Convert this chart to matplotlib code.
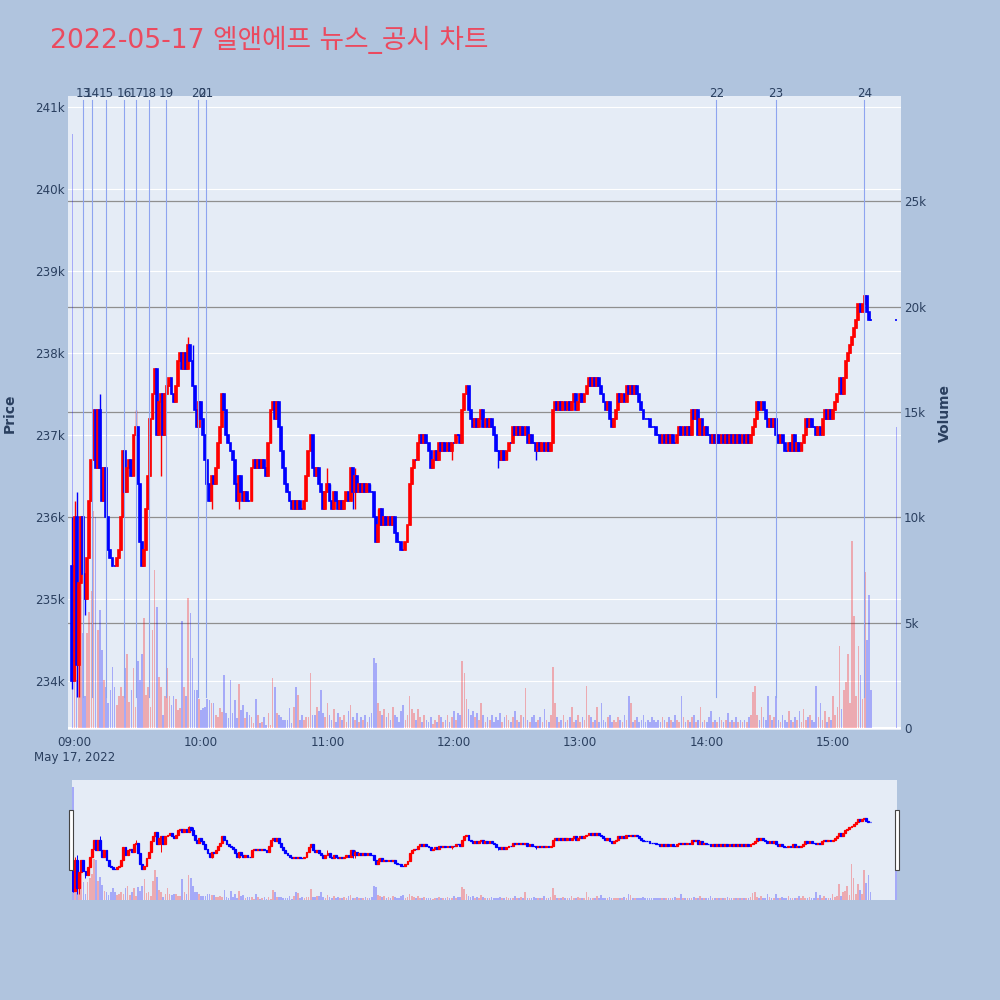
import numpy as np
import matplotlib
matplotlib.use('Agg')
import matplotlib.pyplot as plt
from matplotlib.patches import Rectangle
from matplotlib.lines import Line2D
from matplotlib.transforms import blended_transform_factory

plt.rcParams['font.family'] = ['DejaVu Sans', 'Noto Sans CJK KR']

# ---------------- data ----------------
title = '2022-05-17 엘앤에프 뉴스_공시 차트'
start_minute = -1                      # minutes after 09:00 of first candle
first_open = 235400
# 1-minute closes in units of 100 KRW
closes_100 = [
    2340, 2360, 2342, 2352, 2360, 2353, 2350, 2355, 2362, 2367,
    2373, 2366, 2373, 2366, 2362, 2366, 2360, 2356, 2355, 2354,
    2354, 2355, 2356, 2360, 2368, 2363, 2366, 2367, 2365, 2370,
    2371, 2364, 2357, 2354, 2356, 2361, 2365, 2372, 2375, 2378,
    2370, 2374, 2375, 2370, 2375, 2376, 2377, 2375, 2374, 2376,
    2379, 2380, 2378, 2380, 2378, 2381, 2379, 2376, 2373, 2371,
    2374, 2372, 2370, 2367, 2364, 2362, 2365, 2364, 2366, 2369,
    2371, 2375, 2373, 2370, 2369, 2368, 2367, 2364, 2362, 2365,
    2363, 2362, 2363, 2362, 2362, 2366, 2367, 2366, 2367, 2366,
    2367, 2366, 2365, 2369, 2373, 2374, 2372, 2374, 2371, 2368,
    2366, 2364, 2363, 2362, 2361, 2362, 2361, 2362, 2361, 2361,
    2362, 2365, 2368, 2370, 2366, 2365, 2366, 2364, 2363, 2361,
    2363, 2364, 2362, 2361, 2363, 2362, 2361, 2362, 2361, 2362,
    2363, 2362, 2366, 2363, 2365, 2363, 2364, 2363, 2364, 2363,
    2364, 2363, 2363, 2360, 2357, 2359, 2361, 2359, 2360, 2359,
    2360, 2359, 2360, 2358, 2357, 2357, 2356, 2356, 2357, 2359,
    2364, 2366, 2367, 2367, 2369, 2370, 2369, 2370, 2369, 2368,
    2366, 2367, 2368, 2367, 2369, 2368, 2369, 2368, 2369, 2368,
    2369, 2369, 2370, 2370, 2369, 2373, 2375, 2376, 2373, 2372,
    2371, 2372, 2371, 2372, 2373, 2371, 2372, 2371, 2372, 2371,
    2370, 2368, 2368, 2367, 2368, 2367, 2368, 2369, 2369, 2371,
    2370, 2371, 2370, 2371, 2370, 2371, 2369, 2370, 2369, 2369,
    2368, 2369, 2368, 2369, 2368, 2369, 2368, 2369, 2373, 2374,
    2373, 2374, 2373, 2374, 2373, 2374, 2373, 2374, 2375, 2373,
    2374, 2375, 2374, 2375, 2376, 2377, 2376, 2377, 2376, 2377,
    2376, 2375, 2374, 2373, 2374, 2372, 2371, 2372, 2373, 2375,
    2374, 2375, 2374, 2376, 2375, 2376, 2375, 2376, 2375, 2374,
    2373, 2372, 2372, 2372, 2371, 2371, 2371, 2370, 2370, 2369,
    2370, 2369, 2370, 2369, 2370, 2369, 2369, 2370, 2371, 2370,
    2371, 2370, 2371, 2370, 2373, 2372, 2373, 2370, 2372, 2370,
    2371, 2370, 2370, 2369, 2370, 2369, 2370, 2369, 2370, 2369,
    2370, 2369, 2370, 2369, 2370, 2369, 2370, 2369, 2370, 2369,
    2370, 2369, 2370, 2371, 2372, 2374, 2373, 2374, 2373, 2372,
    2371, 2372, 2371, 2372, 2370, 2369, 2370, 2369, 2368, 2368,
    2369, 2368, 2370, 2368, 2369, 2368, 2369, 2370, 2372, 2371,
    2372, 2371, 2371, 2370, 2371, 2370, 2372, 2373, 2372, 2373,
    2372, 2373, 2374, 2375, 2377, 2375, 2377, 2379, 2380, 2381,
    2382, 2383, 2384, 2386, 2385, 2386, 2387, 2385, 2384, 2384,
]
wick_high_100 = {0: 2360, 1: 2362, 2: 2363, 13: 2375, 30: 2373, 55: 2382,
                 57: 2381, 72: 2375, 121: 2366, 134: 2366, 145: 2361}
wick_low_100 = {0: 2339, 2: 2338, 3: 2338, 6: 2348, 42: 2365, 66: 2361,
                79: 2361, 133: 2361, 134: 2361, 180: 2367, 185: 2369,
                202: 2366, 220: 2367}
volumes = [
    28200, 4000, 2300, 3500, 9500, 4500, 1500, 4500, 5500, 6500,
    10300, 10000, 4650, 5600, 3700, 2280, 1960, 1200, 1800, 2900,
    1960, 1100, 1500, 1960, 1500, 2850, 3500, 1250, 1800, 2850,
    1000, 3200, 2280, 3500, 5200, 1570, 1960, 1000, 4650, 7500,
    5760, 2400, 1960, 600, 1500, 2850, 1500, 1100, 1500, 1400,
    850, 930, 5100, 1960, 1500, 6150, 5450, 3300, 1800, 1800,
    1400, 850, 930, 1000, 1400, 1330, 1170, 1170, 600, 540,
    930, 770, 2500, 690, 460, 2280, 690, 1330, 460, 2100,
    850, 1100, 460, 770, 600, 540, 230, 1400, 600, 230,
    300, 540, 150, 690, 150, 2350, 1960, 690, 600, 540,
    380, 380, 380, 930, 230, 1000, 1960, 1570, 380, 600,
    380, 540, 540, 2600, 600,
    600, 1000, 800, 1800, 700, 500, 1200, 600, 400, 900,
    300, 700, 500, 400, 600, 300, 800, 1100, 500, 400,
    700, 300, 500, 400, 600, 300, 500, 700,
    3300, 3100, 1200, 800, 600, 900, 500, 700,
    400, 1000, 600, 500, 300, 800, 1100, 400, 600, 1500,
    900, 700, 400, 900, 500, 300, 600, 400, 300, 500,
    200, 400, 300, 600, 500, 300, 400, 600,
    300, 500, 800, 400, 700, 600, 3200, 2600, 1400, 900,
    600, 800, 500, 700, 400, 1200, 600, 300, 500, 400,
    600, 300,
    500, 400, 700, 300, 500, 600, 400, 300, 500, 800,
    400, 300, 600, 500, 1900, 400, 300, 500, 600, 300,
    400, 500, 300, 900, 400, 300, 600, 2900,
    1200, 500, 300, 400, 600, 300, 400, 500, 1000, 300,
    400, 600, 300, 500, 400, 2000, 600, 500, 300, 400,
    1000, 300,
    1200, 400, 300, 500, 600, 300, 400, 300, 500, 400,
    300, 600, 400, 1500, 1200, 300, 400, 500, 300, 400,
    600, 300, 400, 300, 500, 400, 300, 400, 300, 500,
    400, 300, 500, 400, 300, 600, 400, 300, 1500, 500,
    300, 400, 300, 500, 600, 300, 400, 1000, 300, 400,
    300, 500, 800, 300, 400, 300, 500, 400, 300, 400,
    700, 300, 400, 300, 500, 300, 400, 300, 400, 300,
    500, 600, 1700, 2000, 600, 400, 1000, 500, 400, 1500,
    600, 400, 500, 1500, 400, 300, 600, 400, 300, 800,
    400, 300, 500, 400, 800, 300, 900, 400, 500, 600,
    400, 300, 2000, 500, 1200, 400, 800, 300, 500, 400,
    1500, 600, 1000, 3900, 900, 1800, 2200, 3500, 1200, 8900,
    5300, 1500, 3900, 2500, 1400, 7400, 4200, 6300, 1800,
]
auction_minute = 390                  # 15:30 closing auction
auction_price = 238400
auction_volume = 14300

news_labels = ['13', '14', '15', '16', '17', '18', '19', '20', '21', '22', '23', '24']
news_minutes = [4.2, 8.3, 15.0, 23.6, 29.3, 35.2, 43.6, 58.8, 62.4, 304.6, 332.8, 374.8]

price_ticks = [234000, 235000, 236000, 237000, 238000, 239000, 240000, 241000]
price_tick_labels = ['234k', '235k', '236k', '237k', '238k', '239k', '240k', '241k']
volume_ticks = [0, 5000, 10000, 15000, 20000, 25000]
volume_tick_labels = ['0', '5k', '10k', '15k', '20k', '25k']
time_ticks = [0, 60, 120, 180, 240, 300, 360]
time_tick_labels = ['09:00\nMay 17, 2022', '10:00', '11:00', '12:00', '13:00', '14:00', '15:00']

# ---------------- derived series ----------------
closes = np.array(closes_100, dtype=float) * 100
opens = np.concatenate([[first_open], closes[:-1]])
highs = np.maximum(opens, closes)
lows = np.minimum(opens, closes)
for k, v in wick_high_100.items():
    highs[k] = max(highs[k], v * 100)
for k, v in wick_low_100.items():
    lows[k] = min(lows[k], v * 100)
minutes = np.arange(len(closes)) + start_minute

x_all = np.concatenate([minutes, [auction_minute]])
o_all = np.concatenate([opens, [auction_price]])
c_all = np.concatenate([closes, [auction_price]])
h_all = np.concatenate([highs, [auction_price]])
l_all = np.concatenate([lows, [auction_price]])
v_all = np.array(volumes + [auction_volume], dtype=float)
up = c_all > o_all
RED, BLUE = '#FF0000', '#0000FF'
ccol = np.where(up, RED, BLUE)

BG = '#B0C4DE'
PLOT_BG = '#E5ECF6'
TXT = '#2a3f5f'
PRICE_LIM = (233402, 241134)
VOL_LIM = (-95, 30000)
FS = 8.6


def draw_candles(ax, lw_body=1.2, lw_wick=1.0):
    ax.vlines(x_all, l_all, h_all, colors=ccol, linewidth=lw_wick, zorder=3)
    ax.bar(x_all, np.abs(c_all - o_all), bottom=np.minimum(o_all, c_all), width=0.9,
           color=ccol, edgecolor=ccol, linewidth=lw_body, zorder=4)


def draw_volume(ax):
    for is_up, col in ((True, RED), (False, BLUE)):
        m = up == is_up
        ax.bar(x_all[m], v_all[m], width=0.8, color=col, alpha=0.28, linewidth=0, zorder=2)


fig = plt.figure(figsize=(10, 10), dpi=100, facecolor=BG)

# ---------------- main plot ----------------
L, R, T, B = 68, 901, 96, 730
axv = fig.add_axes([L / 1000, 1 - B / 1000, (R - L) / 1000, (B - T) / 1000])
axv.set_facecolor(PLOT_BG)
axv.set_xlim(-3.1, 392.2)
axv.set_ylim(*VOL_LIM)
for s in axv.spines.values():
    s.set_visible(False)

axp = axv.twinx()
axp.set_ylim(*PRICE_LIM)
for s in axp.spines.values():
    s.set_visible(False)

# price grid (white) drawn underneath everything, on the volume axes
trans = blended_transform_factory(axv.transAxes, axp.transData)
for p in price_ticks:
    axv.add_line(Line2D([0, 1], [p, p], transform=trans, color='white', linewidth=0.8, zorder=0.5))
# volume grid (gray) and zero line
for v in volume_ticks[1:]:
    axv.axhline(v, color='#8f8f8f', linewidth=0.9, zorder=0.6)
axv.axhline(0, color='white', linewidth=1.5, zorder=0.6)

draw_volume(axv)
draw_candles(axp)

# news lines
for lab, mn in zip(news_labels, news_minutes):
    axp.axvline(mn, ymin=0.052, ymax=0.9937, color='#8EA4F0', linewidth=0.8, zorder=5)
    axp.text(mn, 0.9937, lab, transform=blended_transform_factory(axp.transData, axp.transAxes),
             ha='center', va='bottom', fontsize=FS, color=TXT, clip_on=False, zorder=6)

axv.yaxis.tick_right()
axv.set_yticks(volume_ticks, volume_tick_labels)
axp.yaxis.tick_left()
axp.set_yticks(price_ticks, price_tick_labels)
axv.set_xticks(time_ticks, time_tick_labels)
axv.tick_params(axis='both', length=0, labelsize=FS, labelcolor=TXT)
axv.tick_params(axis='y', pad=2)
axv.tick_params(axis='x', pad=4)
axp.tick_params(axis='both', length=0, labelsize=FS, labelcolor=TXT, pad=2)

fig.text(0.010, 1 - 413 / 1000, 'Price', rotation=90, ha='center', va='center',
         fontsize=10, fontweight='bold', color=TXT)
fig.text(0.945, 1 - 413 / 1000, 'Volume', rotation=90, ha='center', va='center',
         fontsize=10, fontweight='bold', color=TXT)
fig.text(0.050, 1 - 40 / 1000, title, ha='left', va='center', fontsize=19.2, color='#EB4A5F')

# ---------------- range slider ----------------
sL, sR, sT, sB = 72, 897, 780, 900
axs = fig.add_axes([sL / 1000, 1 - sB / 1000, (sR - sL) / 1000, (sB - sT) / 1000])
axs.set_facecolor(PLOT_BG)
axs.set_xlim(-1.4, 390.6)
axs.set_ylim(*VOL_LIM)
axs.set_xticks([])
axs.set_yticks([])
for s in axs.spines.values():
    s.set_visible(False)
draw_volume(axs)
axs2 = axs.twinx()
axs2.set_ylim(*PRICE_LIM)
axs2.set_yticks([])
for s in axs2.spines.values():
    s.set_visible(False)
draw_candles(axs2, lw_body=0.9, lw_wick=0.7)

for hx in (69, 895):
    fig.patches.append(Rectangle((hx / 1000, 1 - 870 / 1000), 4 / 1000, 60 / 1000,
                                 transform=fig.transFigure, facecolor='white',
                                 edgecolor='#444444', linewidth=0.8, zorder=10))

fig.savefig('out.png', dpi=100, facecolor=BG)
